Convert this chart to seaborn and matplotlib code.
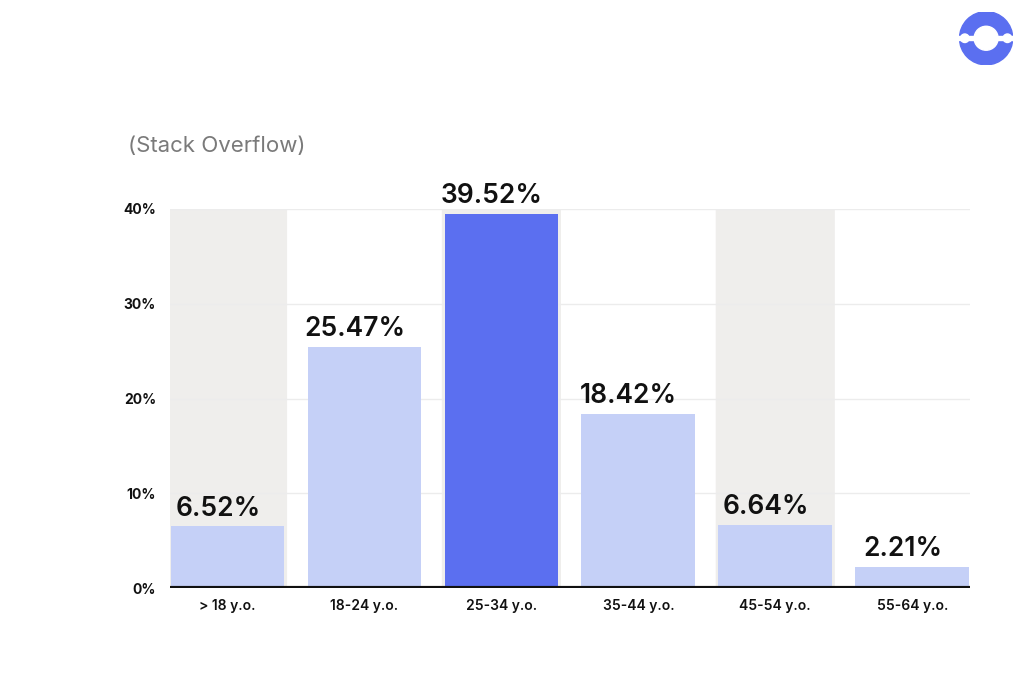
import pandas as pd
import matplotlib.pyplot as plt
import seaborn as sns
from matplotlib.patches import FancyBboxPatch, Circle, Rectangle

# Data
ages = ["> 18 y.o.", "18-24 y.o.", "25-34 y.o.", "35-44 y.o.", "45-54 y.o.", "55-64 y.o."]
shares = [6.52, 25.47, 39.52, 18.42, 6.64, 2.21]
highlight = [False, False, True, False, False, False]
y_ticks = [0, 10, 20, 30, 40]

df = pd.DataFrame({"age": ages, "share": shares, "top": highlight})

sns.set_style("white")
plt.rcParams["font.family"] = ["Inter", "DejaVu Sans"]

fig = plt.figure(figsize=(10.24, 6.83), dpi=100)
ax = fig.add_axes([0.166, 0.139, 0.781, 0.555])

# Grey background bands behind every other column
for i in range(0, len(ages), 2):
    ax.add_patch(FancyBboxPatch((i - 0.435, 0), 0.87, 40,
                                boxstyle="round,pad=0,rounding_size=0.05",
                                mutation_aspect=2.0,
                                facecolor="#efeeec", edgecolor="none", zorder=0))

for t in y_ticks[1:]:
    ax.axhline(t, color="#ececec", lw=1, zorder=0.5)

sns.barplot(data=df, x="age", y="share", hue="top", dodge=False,
            palette={False: "#c5d0f7", True: "#5b6ff0"}, width=0.83,
            saturation=1, linewidth=0, legend=False, ax=ax, zorder=2)

for i, v in enumerate(shares):
    ax.text(i - 0.07, v + 0.5, f"{v:.2f}%", ha="center", va="bottom",
            fontsize=19, color="#111111", fontweight="semibold", clip_on=False)

ax.axhline(0, color="#111111", lw=3, zorder=3)

ax.set_xlim(-0.42, len(ages) - 0.58)
ax.set_ylim(0, 40)
ax.set_yticks(y_ticks)
ax.set_yticklabels([f"{t}%" for t in y_ticks], fontsize=10, fontweight="bold", color="#111111")
ax.tick_params(axis="y", length=0, pad=10)
ax.tick_params(axis="x", length=0, pad=8, labelsize=10, labelcolor="#111111")
for lbl in ax.get_xticklabels():
    lbl.set_fontweight("semibold")
ax.set_xlabel("")
ax.set_ylabel("")
for s in ax.spines.values():
    s.set_visible(False)

fig.text(0.125, 0.777, "(Stack Overflow)", fontsize=16, color="#7a7a7a")

# Logo in the top right corner
lax = fig.add_axes([0.937, 0.905, 0.052, 0.078])
lax.set_xlim(-1, 1)
lax.set_ylim(-1, 1)
lax.set_aspect("equal")
lax.axis("off")
lax.add_patch(Circle((0, 0), 1, color="#5b6ff0"))
lax.add_patch(Rectangle((-1.1, -0.07), 2.2, 0.14, color="white"))
lax.add_patch(Circle((0, 0), 0.45, color="white"))
lax.add_patch(Circle((-0.8, 0), 0.16, color="white"))
lax.add_patch(Circle((0.8, 0), 0.16, color="white"))

plt.savefig("out.png", dpi=100)
